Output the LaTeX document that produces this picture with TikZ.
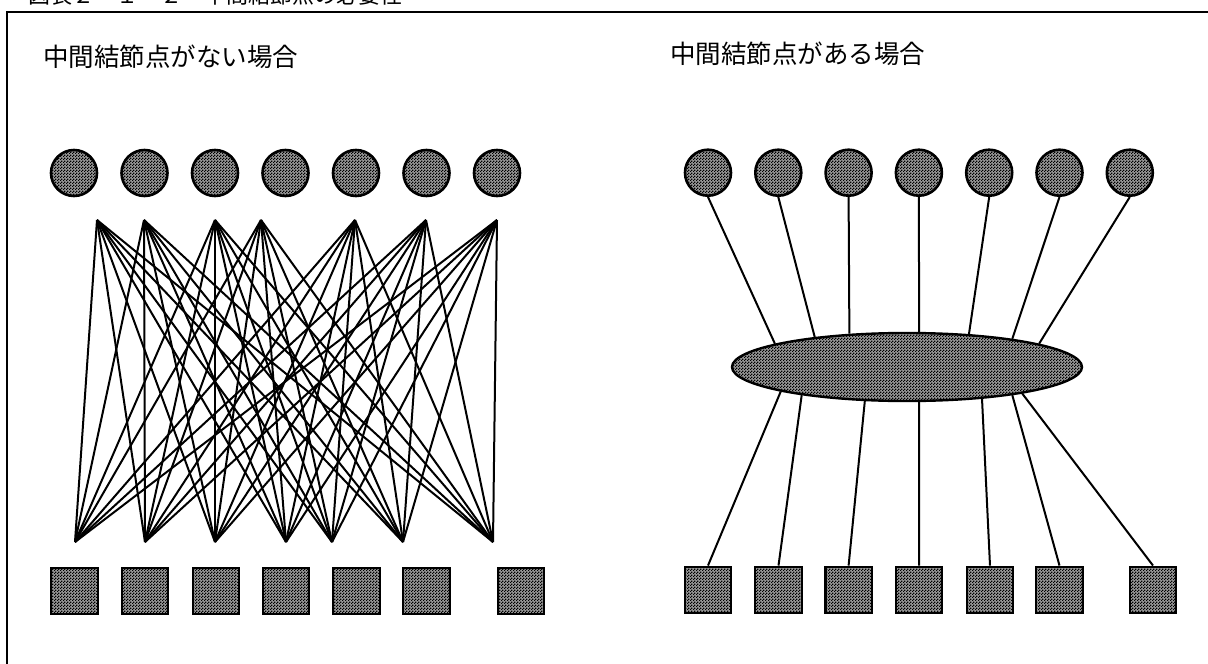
\documentclass[tikz,border=0pt]{standalone}
\usepackage{fontspec}
\newfontfamily\jpfont{Noto Sans CJK JP}
\usetikzlibrary{shapes.geometric, patterns}

% fine checker fill for the nodes
\pgfdeclarepatternformonly{checker}{\pgfpointorigin}{\pgfpoint{3pt}{3pt}}{\pgfpoint{3pt}{3pt}}{%
  \pgfpathrectangle{\pgfpointorigin}{\pgfpoint{1.5pt}{1.5pt}}%
  \pgfpathrectangle{\pgfpoint{1.5pt}{1.5pt}}{\pgfpoint{1.5pt}{1.5pt}}%
  \pgfusepath{fill}}

\tikzset{
  dotted fill/.style = {preaction={fill=black!40}, pattern=checker},
  sitenode/.style = {shape=circle, draw, line width=2.6pt, dotted fill,
                     minimum size=46pt, inner sep=0pt},
  termnode/.style = {shape=rectangle, draw, line width=2.4pt, dotted fill,
                     minimum size=46.5pt, inner sep=0pt},
  hubnode/.style  = {shape=ellipse, draw, line width=2.4pt, dotted fill,
                     minimum width=350pt, minimum height=68pt, inner sep=0pt},
  link/.style     = {line width=2pt},
  heading/.style  = {font=\jpfont\fontsize{25.5}{26}\selectfont,
                     anchor=west, inner sep=0pt}
}

\begin{document}
\begin{tikzpicture}[x=1pt, y=-1pt]
  \useasboundingbox (0,0) rectangle (1208,664);

  % frame and caption
  \node[font=\jpfont\fontsize{22}{22}\selectfont, anchor=base west, inner sep=0pt]
    (caption) at (28,3) {図表２－１－２　中間結節点の必要性};
  \draw[line width=1.8pt] (7,12) rectangle (1216,668);

  % without a hub
  \node[heading] (titleA) at (43,57) {中間結節点がない場合};
  \foreach \i/\x in {1/74, 2/144.5, 3/215, 4/285.5, 5/356, 6/426.5, 7/497}
    \node[sitenode] (la\i) at (\x,173) {};
  \foreach \i/\x in {1/74.5, 2/145, 3/216, 4/286, 5/356.5, 6/426.5, 7/521}
    \node[termnode] (lb\i) at (\x,591) {};
  \foreach \i/\x in {1/97, 2/144, 3/215, 4/261, 5/355, 6/426, 7/497}
    \coordinate (lt\i) at (\x,220);
  \foreach \i/\x in {1/75, 2/145, 3/215, 4/286, 5/332, 6/403, 7/493}
    \coordinate (ld\i) at (\x,542);
  \foreach \i in {1,...,7}
    \foreach \j in {1,...,7}
      \draw[link] (lt\i) -- (ld\j);

  % with a hub
  \node[heading] (titleB) at (670,54) {中間結節点がある場合};
  \node[hubnode] (hub) at (907,367) {};
  \foreach \i/\x in {1/708, 2/778.3, 3/848.6, 4/918.9, 5/989.2, 6/1059.5, 7/1129.8}
    \node[sitenode] (ra\i) at (\x,172.7) {};
  \foreach \i/\x in {1/708, 2/778.5, 3/848.6, 4/919, 5/990, 6/1059.5, 7/1153}
    \node[termnode] (rb\i) at (\x,590) {};
  \foreach \i/\a in {1/170.7, 2/162.2, 3/150, 4/71, 5/28.7, 6/15.7, 7/10.7}
    \draw[link] (ra\i.south) -- (hub.\a);
  \foreach \i/\a in {1/191, 2/195.5, 3/219.5, 4/289, 5/337.8, 6/345.2, 7/347.1}
    \draw[link] (hub.\a) -- (rb\i.north);
\end{tikzpicture}
\end{document}
